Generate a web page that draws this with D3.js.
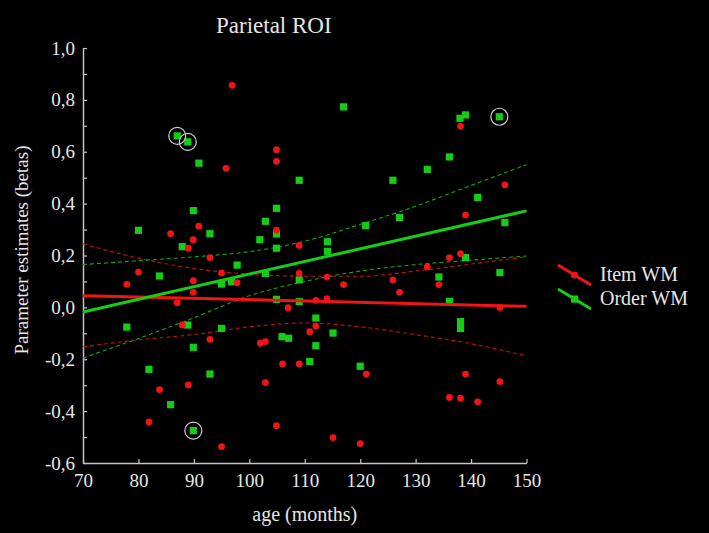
<!DOCTYPE html>
<html>
<head>
<meta charset="utf-8">
<script src="https://cdn.jsdelivr.net/npm/d3@7"></script>
<style>
  html, body { margin: 0; padding: 0; background: #000; }
  svg { display: block; }
  text { font-family: "Liberation Serif", "Times New Roman", serif; fill: #e6e6e6; }
</style>
</head>
<body>
<svg id="chart" width="709" height="533"></svg>
<script>
// ---- data ----
const itemAge  = [96.9, 95.8, 104.9, 104.9, 138.1, 146.1, 90.9, 85.8, 89.9, 89.0, 92.9, 80.0, 95.0, 89.9, 77.9, 97.8, 89.9, 87.0, 87.9, 92.9,
                  104.9, 109.0, 109.0, 114.0, 117.0, 112.0, 114.0, 107.0, 112.0, 110.9, 139.0, 136.1, 138.1, 132.1, 125.9, 134.2, 127.1, 145.2,
                  89.0, 83.8, 81.9, 95.0, 102.0, 102.9, 106.0, 109.0, 121.1, 102.9, 104.9, 115.1, 120.0, 139.0, 145.2, 136.1, 138.1, 141.2];
const itemBeta = [0.856, 0.536, 0.608, 0.563, 0.699, 0.472, 0.313, 0.284, 0.261, 0.228, 0.192, 0.136, 0.133, 0.103, 0.089, 0.095, 0.058, 0.018, -0.068, -0.123,
                  0.298, 0.239, 0.131, 0.117, 0.088, 0.027, 0.034, -0.001, -0.072, -0.094, 0.356, 0.192, 0.207, 0.156, 0.106, 0.088, 0.058, 0.000,
                  -0.299, -0.317, -0.442, -0.537, -0.138, -0.132, -0.218, -0.218, -0.257, -0.290, -0.456, -0.502, -0.525, -0.257, -0.286, -0.347, -0.350, -0.364];

const orderAge  = [87.0, 88.9, 90.9, 117.0, 109.0, 139.0, 138.0, 145.1, 136.1, 132.1, 125.9, 89.9, 80.0, 92.9, 87.9, 97.8, 83.8, 95.0, 96.8, 77.9,
                   88.9, 95.0, 104.9, 102.9, 104.9, 101.9, 104.9, 121.0, 114.1, 114.1, 102.9, 109.0, 104.9, 109.0, 112.0, 115.1, 105.9, 107.1,
                   141.2, 127.1, 146.1, 139.0, 145.2, 134.2, 136.1, 138.1, 138.1, 89.9, 81.9, 92.9, 85.8, 89.9, 112.0, 110.9, 120.0];
const orderBeta = [0.661, 0.638, 0.556, 0.773, 0.490, 0.742, 0.729, 0.735, 0.580, 0.532, 0.490, 0.373, 0.297, 0.284, 0.234, 0.163, 0.121, 0.090, 0.099, -0.076,
                   -0.068, -0.081, 0.382, 0.332, 0.283, 0.261, 0.228, 0.315, 0.253, 0.216, 0.131, 0.106, 0.031, 0.022, -0.041, -0.099, -0.113, -0.119,
                   0.424, 0.346, 0.327, 0.192, 0.134, 0.117, 0.023, -0.055, -0.081, -0.154, -0.239, -0.257, -0.375, -0.475, -0.148, -0.209, -0.227];

// highlighted (circled) points
const circledAge  = [87.0, 88.9, 145.1, 89.9];
const circledBeta = [0.661, 0.638, 0.735, -0.475];

// regression fits
const fitAge = [70, 150];
const itemFit = [0.045, 0.004];
const orderFit = [-0.018, 0.372];

// confidence bands
const bandAge    = [70, 80, 90, 100, 110, 120, 130, 140, 150];
const itemUpper  = [0.245, 0.190, 0.150, 0.128, 0.120, 0.120, 0.140, 0.167, 0.195];
const itemLower  = [-0.152, -0.125, -0.105, -0.075, -0.060, -0.075, -0.105, -0.140, -0.187];
const orderUpper = [0.165, 0.180, 0.195, 0.215, 0.255, 0.320, 0.390, 0.470, 0.550];
const orderLower = [-0.195, -0.120, -0.040, 0.045, 0.100, 0.140, 0.165, 0.182, 0.198];

const xTicks = [70, 80, 90, 100, 110, 120, 130, 140, 150];
const yTicks = [1.0, 0.8, 0.6, 0.4, 0.2, 0.0, -0.2, -0.4, -0.6];
const yMinorTicks = [1.0, 0.9, 0.8, 0.7, 0.6, 0.5, 0.4, 0.3, 0.2, 0.1, 0.0, -0.1, -0.2, -0.3, -0.4, -0.5, -0.6];

const seriesNames = ["Item WM", "Order WM"];
const title = "Parietal ROI";
const xTitle = "age (months)";
const yTitle = "Parameter estimates (betas)";

// ---- drawing ----
const RED = "#f21414", GREEN = "#16cc16";
const RED_D = "#c81010", GREEN_D = "#12a812";
const AXIS = "#c4c4c4";

const svg = d3.select("#chart");
svg.append("rect").attr("width", 709).attr("height", 533).attr("fill", "#000");

const x = d3.scaleLinear().domain([70, 150]).range([83, 526.5]);
const y = d3.scaleLinear().domain([-0.6, 1.0]).range([463, 48]);

const fmt = v => d3.format(".1f")(v).replace(".", ",").replace("−", "-");

// axes
const gx = svg.append("g").attr("transform", `translate(0,${y(-0.6)})`)
  .call(d3.axisBottom(x).tickValues(xTicks).tickSizeInner(-4).tickSizeOuter(0).tickPadding(11).tickFormat(d3.format("d")));
const gyMinor = svg.append("g").attr("transform", `translate(${x(70)},0)`)
  .call(d3.axisLeft(y).tickValues(yMinorTicks).tickSizeInner(-4).tickSizeOuter(0).tickFormat(""));
const gy = svg.append("g").attr("transform", `translate(${x(70)},0)`)
  .call(d3.axisLeft(y).tickValues(yTicks).tickSize(0).tickPadding(8).tickFormat(fmt));
gy.select(".domain").remove();
[gx, gyMinor].forEach(g => {
  g.select(".domain").attr("stroke", AXIS).attr("stroke-width", 1.5);
  g.selectAll(".tick line").attr("stroke", AXIS).attr("stroke-width", 1.2);
});
[gx, gy].forEach(g => g.selectAll(".tick text")
  .attr("fill", "#e6e6e6").style("font-family", "'Liberation Serif', serif").style("font-size", "19px"));

// confidence bands
const bandLine = arr => d3.line().x((d, i) => x(bandAge[i])).y(d => y(d)).curve(d3.curveMonotoneX)(arr);
[[itemUpper, RED_D], [itemLower, RED_D], [orderUpper, GREEN_D], [orderLower, GREEN_D]].forEach(([arr, c]) => {
  svg.append("path").attr("d", bandLine(arr)).attr("fill", "none")
    .attr("stroke", c).attr("stroke-width", 1.1).attr("stroke-dasharray", "4,3");
});

// points
svg.append("g").selectAll("rect").data(orderAge).join("rect")
  .attr("x", (d, i) => x(d) - 3.6).attr("y", (d, i) => y(orderBeta[i]) - 3.6)
  .attr("width", 7.2).attr("height", 7.2).attr("fill", GREEN);
svg.append("g").selectAll("circle").data(itemAge).join("circle")
  .attr("cx", d => x(d)).attr("cy", (d, i) => y(itemBeta[i])).attr("r", 3.4).attr("fill", RED);

// regression lines
const fitLine = arr => d3.line().x((d, i) => x(fitAge[i])).y(d => y(d))(arr);
svg.append("path").attr("d", fitLine(itemFit)).attr("fill", "none").attr("stroke", RED).attr("stroke-width", 3);
svg.append("path").attr("d", fitLine(orderFit)).attr("fill", "none").attr("stroke", GREEN).attr("stroke-width", 3);

// circled points
svg.append("g").selectAll("circle").data(circledAge).join("circle")
  .attr("cx", d => x(d)).attr("cy", (d, i) => y(circledBeta[i])).attr("r", 8.5)
  .attr("fill", "none").attr("stroke", "#cfcfcf").attr("stroke-width", 1.2);

// titles
svg.append("text").attr("x", 216).attr("y", 33).style("font-size", "23px").text(title);
svg.append("text").attr("x", x(110)).attr("y", 521).attr("text-anchor", "middle").style("font-size", "20px").text(xTitle);
svg.append("text").attr("transform", "translate(28,250) rotate(-90)").attr("text-anchor", "middle")
  .style("font-size", "19px").text(yTitle);

// legend
const legend = svg.append("g");
const legItems = [{name: seriesNames[0], color: RED, y0: 265, shape: "circle"},
                  {name: seriesNames[1], color: GREEN, y0: 289, shape: "square"}];
legItems.forEach(it => {
  legend.append("line").attr("x1", 558).attr("y1", it.y0).attr("x2", 591).attr("y2", it.y0 + 20)
    .attr("stroke", it.color).attr("stroke-width", 3);
  if (it.shape === "circle") {
    legend.append("circle").attr("cx", 574.5).attr("cy", it.y0 + 10).attr("r", 3.6).attr("fill", it.color);
  } else {
    legend.append("rect").attr("x", 571).attr("y", it.y0 + 6.5).attr("width", 7.2).attr("height", 7.2).attr("fill", it.color);
  }
  legend.append("text").attr("x", 600).attr("y", it.y0 + 16).style("font-size", "20px").text(it.name);
});
</script>
</body>
</html>
